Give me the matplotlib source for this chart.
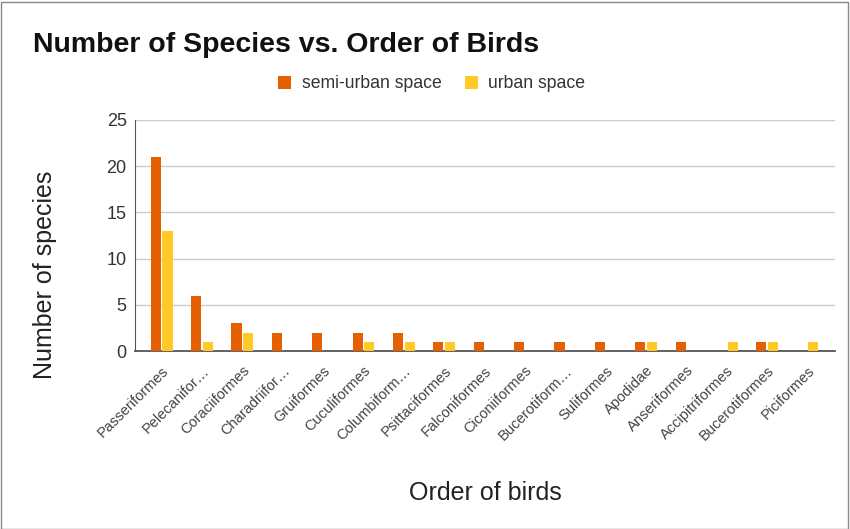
import numpy as np
import matplotlib.pyplot as plt
from matplotlib.patches import Rectangle

plt.rcParams['font.family'] = ['Liberation Sans', 'DejaVu Sans']

#DATA
orders = ["Passeriformes", "Pelecanifor…", "Coraciiformes", "Charadriifor…", "Gruiformes",
          "Cuculiformes", "Columbiform…", "Psittaciformes", "Falconiformes", "Ciconiiformes",
          "Bucerotiform…", "Suliformes", "Apodidae", "Anseriformes", "Accipitriformes",
          "Bucerotiformes", "Piciformes"]
semi_urban = [21, 6, 3, 2, 2, 2, 2, 1, 1, 1, 1, 1, 1, 1, 0, 1, 0]
urban = [13, 1, 2, 0, 0, 1, 1, 1, 0, 0, 0, 0, 1, 0, 1, 1, 1]

ORANGE = "#e65f00"
YELLOW = "#ffc928"

fig = plt.figure(figsize=(8.5, 5.29), dpi=100)
ax = fig.add_axes([135 / 850, 1 - 351 / 529, 700 / 850, 231 / 529])

x = np.arange(len(orders))
w = 0.25
ax.bar(x - 0.145, semi_urban, w, color=ORANGE, label="semi-urban space", zorder=3)
ax.bar(x + 0.145, urban, w, color=YELLOW, label="urban space", zorder=3)

ax.set_xlim(-0.66, len(orders) - 1 + 0.68)
ax.set_ylim(0, 25)
ax.set_yticks([0, 5, 10, 15, 20, 25])
ax.grid(axis="y", color="#cccccc", linewidth=1, zorder=0)
ax.tick_params(axis="y", length=0, labelsize=13, labelcolor="#333333", pad=6)
ax.tick_params(axis="x", length=0, labelsize=10.5, labelcolor="#444444", pad=9)
ax.set_xticks(x)
ax.set_xticklabels(orders, rotation=45, ha="right", rotation_mode="anchor")

for s in ["top", "right"]:
    ax.spines[s].set_visible(False)
ax.spines["left"].set_color("#555555")
ax.spines["bottom"].set_color("#555555")
ax.spines["bottom"].set_linewidth(1.3)

ax.set_ylabel("Number of species", fontsize=18, color="#222222", va="center")
ax.yaxis.set_label_coords((45 - 135) / 700, (351 - 275) / 231)
ax.set_xlabel("Order of birds", fontsize=18, color="#222222", va="center")
ax.xaxis.set_label_coords((485 - 135) / 700, (351 - 493) / 231)

fig.text(33 / 850, 1 - 45 / 529, "Number of Species vs. Order of Birds",
         fontsize=20.5, fontweight="bold", va="center", ha="left", color="#111111")

ax.legend(loc="center", bbox_to_anchor=(0.424, 1 + (120 - 84) / 231),
          ncol=2, frameon=False, fontsize=12.7, handlelength=0.75, handleheight=0.75,
          columnspacing=1.3, handletextpad=0.6, labelcolor="#333333")

fig.patches.append(Rectangle((0.001, 0.0), 0.997, 0.997, transform=fig.transFigure,
                             fill=False, edgecolor="#888888", linewidth=1))

fig.savefig("out.png", dpi=100)
